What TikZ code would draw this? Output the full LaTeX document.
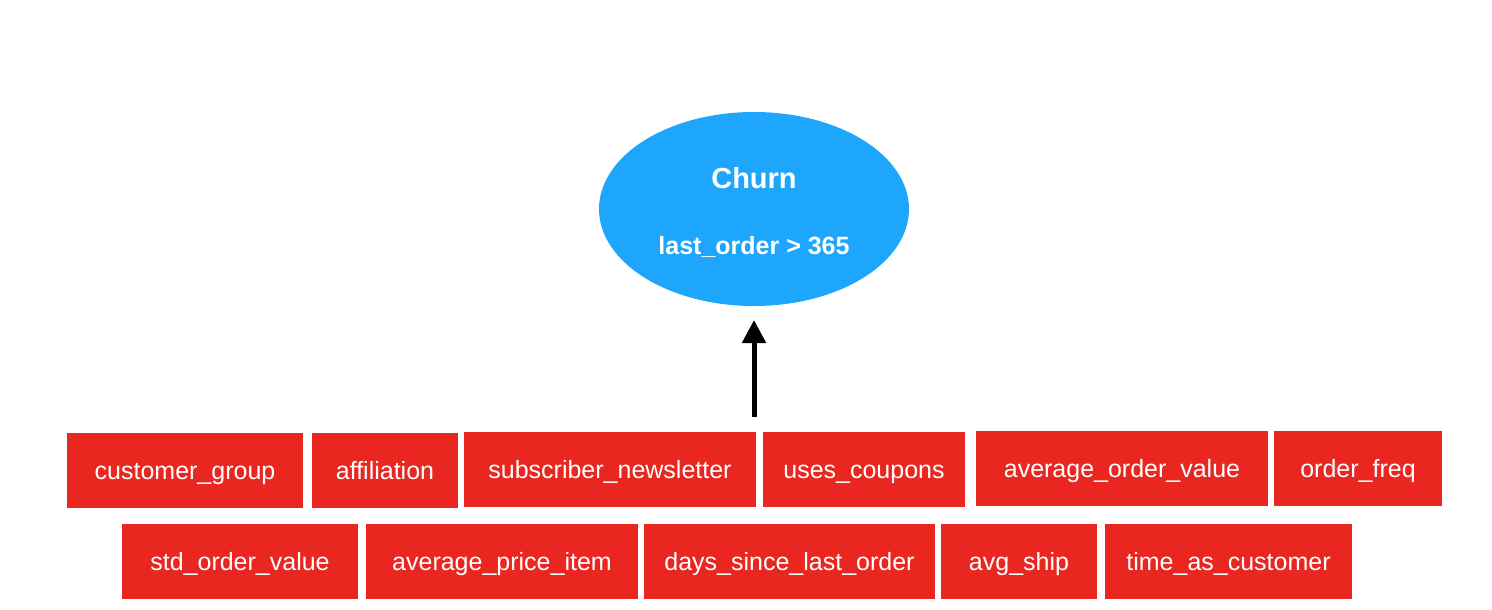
\documentclass[tikz,border=0pt]{standalone}
\usepackage{fontspec}
\setmainfont{Liberation Sans}
\usetikzlibrary{arrows.meta,shapes.geometric}
\definecolor{featred}{RGB}{234,38,33}
\definecolor{churnblue}{RGB}{30,166,253}
\begin{document}
\begin{tikzpicture}[x=1pt, y=-1pt]
\tikzset{ >={Triangle[length=23pt,width=23pt]}, inner sep=0pt, outer sep=0pt,
  feat/.style={fill=featred, text=white, minimum height=75pt, text height=22pt, text depth=4pt, font=\fontsize{25}{30}\selectfont},
  churntext/.style={text=white, anchor=base, font=\bfseries\fontsize{25}{30}\selectfont},
}
\useasboundingbox (0,0) rectangle (1492,610);

%\draw [lightgray, dashed, step=100] (0,0) grid (1492,610);

\node [fill=churnblue, ellipse, minimum width=310pt, minimum height=194pt] (C) at (754,209) {};
\node [churntext, font=\bfseries\fontsize{29}{34}\selectfont] (CT) at (754,188) {Churn};
\node [churntext] (CL) at (754,254) {last\_order > 365};

% first row
\node [feat, minimum width=236pt] (CG)  at (185,470)  {customer\_group};
\node [feat, minimum width=146pt] (AF)  at (385,470)  {affiliation};
\node [feat, minimum width=292pt] (SN)  at (610,469)  {subscriber\_newsletter};
\node [feat, minimum width=202pt] (UC)  at (864,469)  {uses\_coupons};
\node [feat, minimum width=292pt] (AOV) at (1122,468) {average\_order\_value};
\node [feat, minimum width=168pt] (OF)  at (1358,468) {order\_freq};

% second row
\node [feat, minimum width=236pt] (SOV)  at (240,561)    {std\_order\_value};
\node [feat, minimum width=272pt] (API)  at (502,561)    {average\_price\_item};
\node [feat, minimum width=291pt] (DSLO) at (789.5,561)  {days\_since\_last\_order};
\node [feat, minimum width=156pt] (AS)   at (1019,561)   {avg\_ship};
\node [feat, minimum width=247pt] (TAC)  at (1228.5,561) {time\_as\_customer};

\coordinate (B) at (754,417);
\draw [->, line width=5pt, shorten >=14pt] (B) -- (C.south);

\end{tikzpicture}
\end{document}
